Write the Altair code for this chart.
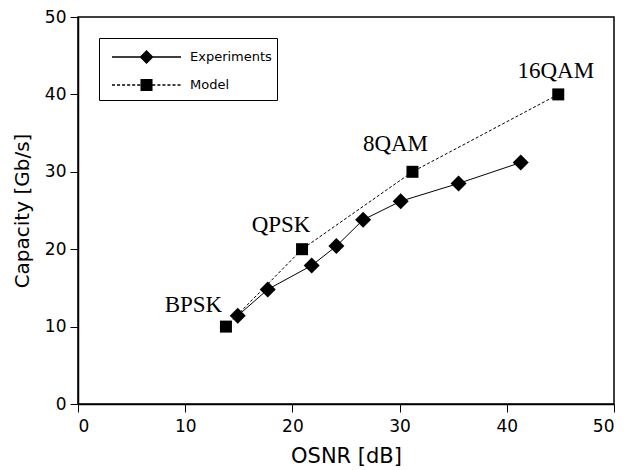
import altair as alt
import pandas as pd

# ---- data ----
exp_osnr = [14.9, 17.7, 21.8, 24.1, 26.6, 30.1, 35.5, 41.3]
exp_cap = [11.4, 14.8, 17.9, 20.4, 23.8, 26.2, 28.5, 31.2]

model_osnr = [13.8, 20.9, 31.2, 44.8]
model_cap = [10.0, 20.0, 30.0, 40.0]
model_labels = ["BPSK", "QPSK", "8QAM", "16QAM"]

series_names = ["Experiments", "Model"]
x_ticks = [0, 10, 20, 30, 40, 50]
y_ticks = [0, 10, 20, 30, 40, 50]

exp_df = pd.DataFrame({"osnr": exp_osnr, "cap": exp_cap, "series": "Experiments"})
mod_df = pd.DataFrame({"osnr": model_osnr, "cap": model_cap, "series": "Model",
                       "label": model_labels})

# ---- legend symbol paths (unit = 7 px with symbol size 196) ----
L = 9.86          # line length in units
C = L / 2         # marker centre
t = 0.09          # half line thickness (~1.3 px)


def rect(x0, x1):
    return f"M{x0:.3f},{-t}L{x1:.3f},{-t}L{x1:.3f},{t}L{x0:.3f},{t}Z"


exp_path = rect(0, L) + f" M{C},-1L{C+1},0L{C},1L{C-1},0Z"
dash_on, dash_off = 0.43, 0.29
segs = []
p = 0.0
while p < L:
    e = min(p + dash_on, L)
    segs.append(rect(p, e))
    p += dash_on + dash_off
h = 0.86
mod_path = " ".join(segs) + f" M{C-h},{-h}L{C+h},{-h}L{C+h},{h}L{C-h},{h}Z"

xs = alt.Scale(domain=[0, 50], nice=False)
ys = alt.Scale(domain=[0, 50], nice=False)

xenc = alt.X("osnr:Q", scale=xs, title="OSNR [dB]",
             axis=alt.Axis(values=x_ticks, format="d"))
yenc = alt.Y("cap:Q", scale=ys, title="Capacity [Gb/s]",
             axis=alt.Axis(values=y_ticks, format="d"))

exp_line = alt.Chart(exp_df).mark_line(color="black", strokeWidth=1).encode(x=xenc, y=yenc)
exp_pts = alt.Chart(exp_df).mark_point(shape="diamond", filled=True, color="black",
                                       size=256, opacity=1).encode(x=xenc, y=yenc)
mod_line = alt.Chart(mod_df).mark_line(color="black", strokeWidth=1,
                                       strokeDash=[3, 2]).encode(x=xenc, y=yenc)
mod_pts = alt.Chart(mod_df).mark_point(shape="square", filled=True, color="black",
                                       size=144, opacity=1).encode(x=xenc, y=yenc)

legend_layer = alt.Chart(mod_df).mark_point(
    filled=True, color="black", opacity=1, size=196
).encode(
    x=xenc, y=yenc,
    shape=alt.Shape("series:N",
                    scale=alt.Scale(domain=series_names, range=[exp_path, mod_path]),
                    legend=alt.Legend(
                        title=" ", titleFontSize=6, titlePadding=0,
                        orient="none", legendX=21, legendY=21,
                        padding=5, strokeColor="black", fillColor="white",
                        labelFont="DejaVu Sans", labelFontSize=13, labelColor="black",
                        labelOffset=70, symbolSize=196, symbolOpacity=1,
                        symbolFillColor="black",
                        rowPadding=8, cornerRadius=0, labelLimit=200)),
).transform_filter("false")

label_offsets = {"BPSK": (-32.5, -15), "QPSK": (-21, -17),
                 "8QAM": (-17, -21), "16QAM": (-2.5, -16)}
texts = []
for lab in model_labels:
    dx, dy = label_offsets[lab]
    texts.append(
        alt.Chart(mod_df).transform_filter(alt.datum.label == lab).mark_text(
            font="Liberation Serif", fontSize=23, color="black",
            align="center", baseline="alphabetic", dx=dx, dy=dy
        ).encode(x=xenc, y=yenc, text="label:N")
    )

chart = alt.layer(mod_line, exp_line, mod_pts, exp_pts, legend_layer, *texts).properties(
    width=536, height=387,
    autosize=alt.AutoSizeParams(type="none"),
    padding={"left": 70, "top": 9, "right": 12, "bottom": 64},
    background="white",
).configure_view(
    stroke="black", strokeWidth=1.5
).configure_axis(
    domainColor="black", domainWidth=1.5, tickColor="black", tickWidth=1,
    tickSize=8, labelFont="DejaVu Sans", labelFontSize=17, labelColor="black",
    titleFont="DejaVu Sans", titleColor="black",
    titleFontWeight="normal", grid=False
).configure_axisX(
    labelPadding=6, titlePadding=11, titleFontSize=21
).configure_axisY(
    labelPadding=4, titlePadding=12, titleFontSize=20
)

chart.save("out.html", embed_options={"renderer": "svg", "actions": False})
